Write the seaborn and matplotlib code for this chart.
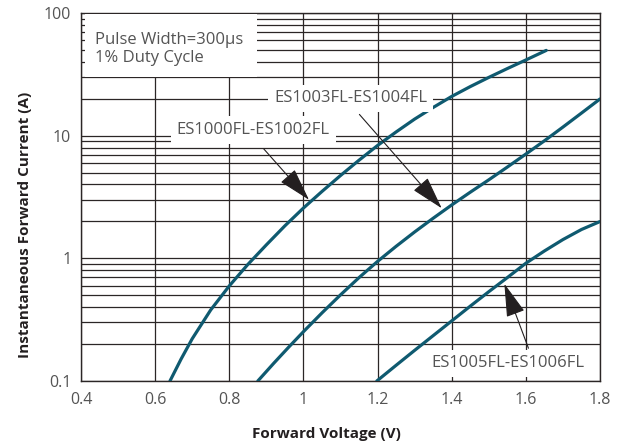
import numpy as np
import pandas as pd
import matplotlib
matplotlib.use("Agg")
import matplotlib.pyplot as plt
from matplotlib.ticker import LogLocator, NullFormatter
from matplotlib.patches import Rectangle
import seaborn as sns

# ---- data ----
v_es1000 = [0.64, 0.67, 0.70, 0.75, 0.80, 0.85, 0.90, 0.95, 1.00, 1.05, 1.10,
            1.15, 1.20, 1.25, 1.30, 1.35, 1.40, 1.45, 1.50, 1.55, 1.60, 1.655]
i_es1000 = [0.100, 0.151, 0.221, 0.380, 0.596, 0.891, 1.288, 1.841, 2.570, 3.508,
            4.732, 6.310, 8.318, 10.72, 13.65, 16.98, 20.89, 25.12, 29.85, 35.24,
            41.40, 49.55]

v_es1003 = [0.877, 0.92, 0.96, 1.00, 1.05, 1.10, 1.15, 1.20, 1.25, 1.30, 1.35,
            1.40, 1.45, 1.50, 1.55, 1.60, 1.65, 1.70, 1.75, 1.80]
i_es1003 = [0.100, 0.1396, 0.1884, 0.2523, 0.3589, 0.5035, 0.6966, 0.9441, 1.253,
            1.641, 2.123, 2.723, 3.459, 4.365, 5.546, 7.079, 9.078, 11.75, 15.28,
            19.91]

v_es1005 = [1.198, 1.25, 1.30, 1.35, 1.40, 1.45, 1.50, 1.55, 1.60, 1.65, 1.70,
            1.75, 1.80]
i_es1005 = [0.100, 0.1343, 0.1778, 0.2344, 0.3090, 0.4074, 0.5346, 0.6966, 0.912,
            1.148, 1.422, 1.718, 1.995]

series_names = ["ES1000FL-ES1002FL", "ES1003FL-ES1004FL", "ES1005FL-ES1006FL"]
x_ticks = [0.4, 0.6, 0.8, 1.0, 1.2, 1.4, 1.6, 1.8]
x_tick_labels = ["0.4", "0.6", "0.8", "1", "1.2", "1.4", "1.6", "1.8"]
y_ticks = [0.1, 1, 10, 100]
y_tick_labels = ["0.1", "1", "10", "100"]

# label anchor positions (data coords)
label_pos = {"ES1000FL-ES1002FL": (0.865, 11.1),
             "ES1003FL-ES1004FL": (1.128, 20.1),
             "ES1005FL-ES1006FL": (1.552, 0.139)}
arrow_tips = {"ES1000FL-ES1002FL": (1.015, 3.0),
              "ES1003FL-ES1004FL": (1.373, 2.56),
              "ES1005FL-ES1006FL": (1.542, 0.62)}
arrow_tails = {"ES1000FL-ES1002FL": (0.893, 7.8),
               "ES1003FL-ES1004FL": (1.151, 14.9),
               "ES1005FL-ES1006FL": (1.607, 0.185)}

df = pd.concat([
    pd.DataFrame({"V": v_es1000, "I": i_es1000, "series": series_names[0]}),
    pd.DataFrame({"V": v_es1003, "I": i_es1003, "series": series_names[1]}),
    pd.DataFrame({"V": v_es1005, "I": i_es1005, "series": series_names[2]}),
], ignore_index=True)

sns.set_style("white")
plt.rcParams["font.family"] = ["Open Sans", "DejaVu Sans"]

curve_color = "#0f5a70"
grid_color = "#2b2626"
text_color = "#545454"

fig = plt.figure(figsize=(6.27, 4.45), dpi=100)
ax = fig.add_axes([81 / 627, 1 - 381 / 445, 519 / 627, 368 / 445])

sns.lineplot(data=df, x="V", y="I", hue="series", units="series", estimator=None,
             palette=[curve_color] * 3, linewidth=2.3, legend=False, ax=ax,
             sort=False, zorder=3)

ax.set_yscale("log")
ax.set_xlim(0.4, 1.8)
ax.set_ylim(0.1, 100)
ax.set_xticks(x_ticks, x_tick_labels)
ax.set_yticks(y_ticks, y_tick_labels)
ax.yaxis.set_minor_locator(LogLocator(base=10, subs=np.arange(2, 10)))
ax.yaxis.set_minor_formatter(NullFormatter())

ax.grid(False)
ax.xaxis.grid(True, which="major", color=grid_color, linewidth=0.9)
ax.yaxis.grid(True, which="both", color=grid_color, linewidth=0.9)
ax.set_axisbelow(True)
for s in ax.spines.values():
    s.set_color(grid_color)
    s.set_linewidth(1.0)

ax.tick_params(axis="both", which="both", length=0, labelsize=11.5,
               labelcolor=text_color)
ax.tick_params(axis="x", pad=8)
ax.tick_params(axis="y", pad=7)

ax.set_xlabel("Forward Voltage (V)", fontsize=11, fontweight="bold", color="#231f20")
ax.set_ylabel("Instantaneous Forward Current (A)", fontsize=11, fontweight="bold",
              color="#231f20")
ax.xaxis.set_label_coords(0.473, -0.125)
ax.yaxis.set_label_coords(-0.095, 0.424)

# info box
ax.add_patch(Rectangle((4 / 519, (381 - 77) / 368), 172 / 519, 63 / 368,
                       transform=ax.transAxes, facecolor="white", edgecolor="none",
                       zorder=4))
ax.text(14 / 519, (381 - 49) / 368, "Pulse Width=300µs\n1% Duty Cycle",
        transform=ax.transAxes, fontsize=12, color=text_color, ha="left",
        va="center", linespacing=1.25, zorder=5)

for name in series_names:
    lx, ly = label_pos[name]
    ax.text(lx, ly, name, fontsize=12, color=text_color, ha="center", va="center",
            zorder=5,
            bbox=dict(boxstyle="square,pad=0.35", facecolor="white", edgecolor="none"))
    ax.annotate("", xy=arrow_tips[name], xytext=arrow_tails[name],
                arrowprops=dict(arrowstyle="-|>,head_length=1.05,head_width=0.3",
                                mutation_scale=20, color="#231f20", lw=0.8,
                                shrinkA=0, shrinkB=0),
                zorder=6)

fig.savefig("out.png", dpi=100)
